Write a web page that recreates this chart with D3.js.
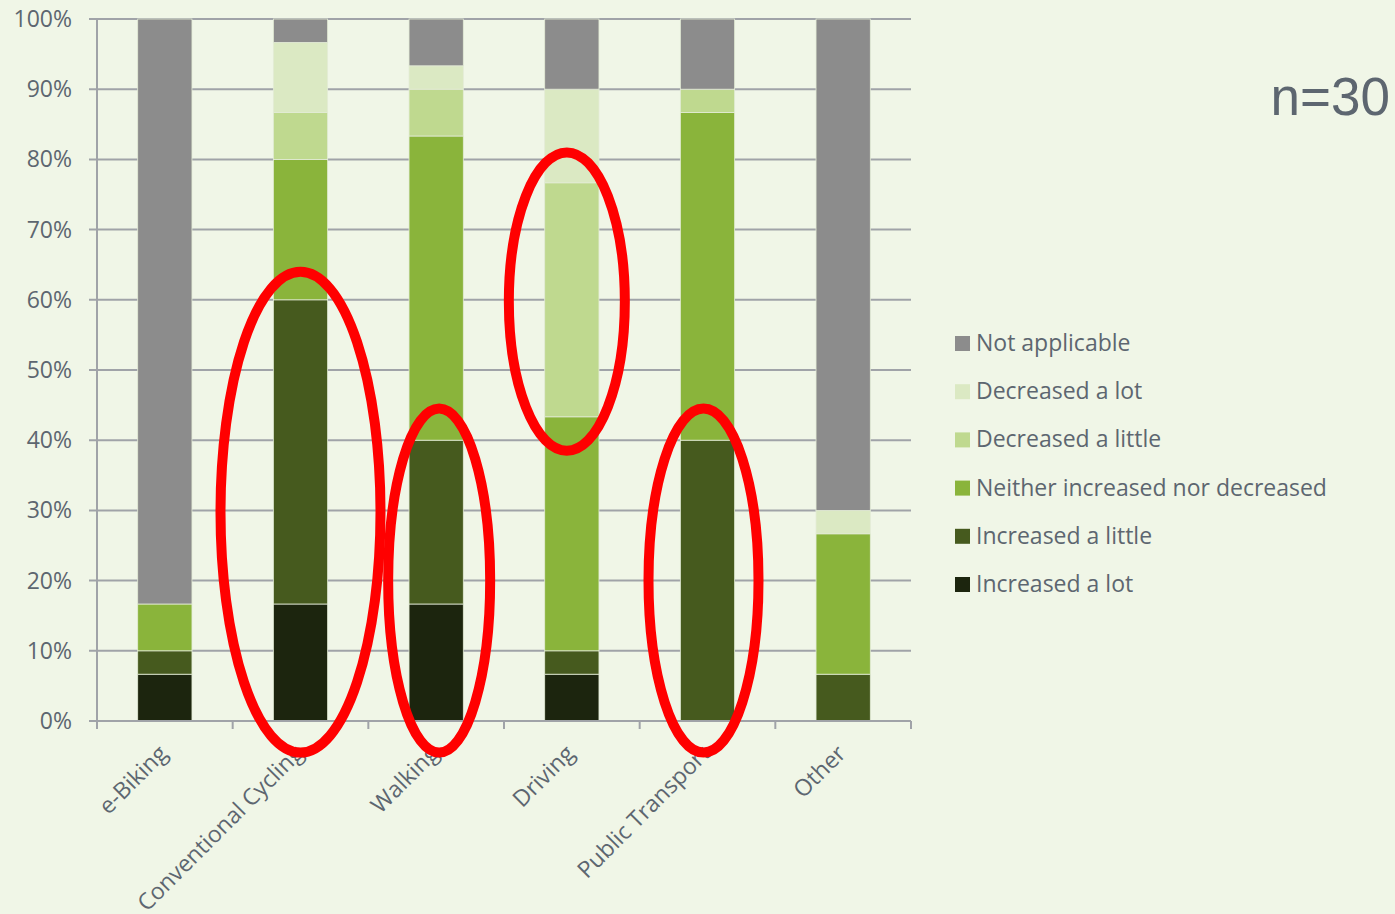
<!DOCTYPE html>
<html><head><meta charset="utf-8">
<script src="https://cdn.jsdelivr.net/npm/d3@7"></script>
<style>
html,body{margin:0;padding:0;background:#f0f6e7;}
svg{display:block;}
</style></head>
<body>
<svg id="chart" width="1395" height="914"></svg>
<script>
const categories = ["e-Biking","Conventional Cycling","Walking","Driving","Public Transport","Other"];
const seriesNames = ["Increased a lot","Increased a little","Neither increased nor decreased","Decreased a little","Decreased a lot","Not applicable"];
// counts out of n=30
const increasedLot    = [2, 5, 5, 2, 0, 0];
const increasedLittle = [1, 13, 7, 1, 12, 2];
const neither         = [2, 6, 13, 10, 14, 6];
const decreasedLittle = [0, 2, 2, 10, 1, 0];
const decreasedLot    = [0, 3, 1, 4, 0, 1];
const notApplicable   = [25, 1, 2, 3, 3, 21];
const yTicks = [0,0.1,0.2,0.3,0.4,0.5,0.6,0.7,0.8,0.9,1.0];
const colors = ["#1c250e","#465a1e","#8ab43b","#bfd98f","#dbe9c3","#8c8c8c"];
const n = 30;

const seriesValues = [increasedLot, increasedLittle, neither, decreasedLittle, decreasedLot, notApplicable];
const table = categories.map((c,i)=>{
  const o = {cat:c};
  seriesNames.forEach((s,j)=> o[s] = seriesValues[j][i]/n);
  return o;
});

const svg = d3.select("#chart");
const mLeft = 97, mRight = 911, mTop = 19, mBottom = 721;
const x = d3.scaleBand().domain(categories).range([mLeft,mRight]).paddingInner(0.6).paddingOuter(0.3);
const xb = d3.scaleBand().domain(categories).range([mLeft,mRight]);
const y = d3.scaleLinear().domain([0,1]).range([mBottom,mTop]);
const textColor = "#5d6670";
const axisColor = "#a0a3a8";
const font = "'Open Sans', sans-serif";

// gridlines
svg.append("g").selectAll("line").data(yTicks).join("line")
  .attr("x1", mLeft-8).attr("x2", mRight)
  .attr("y1", d=>y(d)).attr("y2", d=>y(d))
  .attr("stroke", axisColor).attr("stroke-width",2);

// y tick labels
svg.append("g").selectAll("text").data(yTicks).join("text")
  .attr("x", 72).attr("y", d=>y(d)).attr("dy","0.35em")
  .attr("text-anchor","end").attr("font-family",font).attr("font-size",23)
  .attr("fill",textColor).text(d=>d3.format(".0%")(d));

// bars
const stack = d3.stack().keys(seriesNames)(table);
svg.append("g").selectAll("g").data(stack).join("g")
  .attr("fill",(d,i)=>colors[i])
  .selectAll("rect").data(d=>d).join("rect")
  .attr("x", d=>x(d.data.cat)).attr("width", x.bandwidth())
  .attr("y", d=>y(d[1])).attr("height", d=>y(d[0])-y(d[1]))
  .attr("stroke", d=> (d[1]-d[0])>0 ? "#e3ecd6" : "none").attr("stroke-width",0.8);

// axes lines
svg.append("line").attr("x1",mLeft).attr("x2",mLeft).attr("y1",mTop).attr("y2",mBottom+8)
  .attr("stroke",axisColor).attr("stroke-width",2);
svg.append("line").attr("x1",mLeft).attr("x2",mRight).attr("y1",mBottom).attr("y2",mBottom)
  .attr("stroke",axisColor).attr("stroke-width",2);
const bounds = categories.map(c=>xb(c)).concat([mRight]);
svg.append("g").selectAll("line").data(bounds).join("line")
  .attr("x1",d=>d).attr("x2",d=>d).attr("y1",mBottom).attr("y2",mBottom+8)
  .attr("stroke",axisColor).attr("stroke-width",2);

// category labels
svg.append("g").selectAll("text").data(categories).join("text")
  .attr("transform", c=>`translate(${x(c)+x.bandwidth()/2+4},${mBottom+34}) rotate(-45)`)
  .attr("text-anchor","end").attr("font-family",font).attr("font-size",23)
  .attr("fill",textColor).text(c=>c);

// legend
const legendOrder = seriesNames.slice().reverse();
const lg = svg.append("g").selectAll("g").data(legendOrder).join("g")
  .attr("transform",(d,i)=>`translate(955,${343+i*48.2})`);
lg.append("rect").attr("x",0).attr("y",-7).attr("width",15).attr("height",15)
  .attr("fill",d=>colors[seriesNames.indexOf(d)]);
lg.append("text").attr("x",21).attr("y",0).attr("dy","0.35em")
  .attr("font-family",font).attr("font-size",23).attr("fill",textColor).text(d=>d);

// n label
svg.append("text").attr("x",1390).attr("y",115).attr("text-anchor","end")
  .attr("font-family","'Liberation Sans', Arial, sans-serif").attr("font-size",53)
  .attr("fill","#5d6670").text("n="+n);

// red annotation ellipses
const ellipses = [
  {cat:"Conventional Cycling", dx:0, lo:-0.045, hi:0.64, rx:80},
  {cat:"Walking", dx:3, lo:-0.045, hi:0.445, rx:51},
  {cat:"Driving", dx:-5, lo:0.385, hi:0.81, rx:58},
  {cat:"Public Transport", dx:-4, lo:-0.045, hi:0.445, rx:55}
];
svg.append("g").selectAll("ellipse").data(ellipses).join("ellipse")
  .attr("cx", d=>x(d.cat)+x.bandwidth()/2 + d.dx)
  .attr("cy", d=>(y(d.lo)+y(d.hi))/2)
  .attr("rx", d=>d.rx)
  .attr("ry", d=>(y(d.lo)-y(d.hi))/2)
  .attr("fill","none").attr("stroke","#ff0000").attr("stroke-width",10);
</script>
</body></html>
